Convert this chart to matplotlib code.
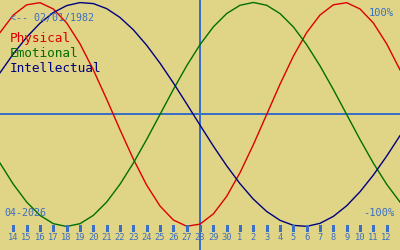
import matplotlib
matplotlib.use("Agg")
import matplotlib.pyplot as plt
import pandas as pd

# one value per day, 13 Apr 2026 .. 13 May 2026 (birth date 02/01/1982)
days = pd.date_range("2026-04-13", "2026-05-13", freq="D")
today = pd.Timestamp("2026-04-28")

physical = [0.731, 0.888, 0.979, 0.998, 0.942, 0.817, 0.631, 0.398, 0.136, -0.136,
            -0.398, -0.631, -0.817, -0.942, -0.998, -0.979, -0.888, -0.731, -0.520, -0.270,
            0.000, 0.270, 0.520, 0.731, 0.888, 0.979, 0.998, 0.942, 0.817, 0.631, 0.398]
emotional = [-0.434, -0.623, -0.782, -0.901, -0.975, -1.000, -0.975, -0.901, -0.782, -0.623,
             -0.434, -0.223, 0.000, 0.223, 0.434, 0.623, 0.782, 0.901, 0.975, 1.000,
             0.975, 0.901, 0.782, 0.623, 0.434, 0.223, 0.000, -0.223, -0.434, -0.623, -0.782]
intellectual = [0.372, 0.541, 0.690, 0.815, 0.910, 0.972, 0.999, 0.990, 0.945, 0.866,
                0.756, 0.618, 0.458, 0.282, 0.095, -0.095, -0.282, -0.458, -0.618, -0.756,
                -0.866, -0.945, -0.990, -0.999, -0.972, -0.910, -0.815, -0.690, -0.541, -0.372, -0.189]

series = [("Physical", physical, "#dd0000"),
          ("Emotional", emotional, "#007000"),
          ("Intellectual", intellectual, "#000080")]

tick_days = days[1:-1]
birth_label = "<-- 02/01/1982"
month_label = "04-2026"

bg = "#e0d487"
blue = "#3a6fc4"
mono = ["DejaVu Sans Mono"]

fig = plt.figure(figsize=(4, 2.5), dpi=100, facecolor=bg)
ax = fig.add_axes([0, 0, 1, 1])
ax.set_facecolor(bg)
ax.set_xlim(days[0], days[-1])
ax.set_ylim(-1.21, 1.022)
ax.axis("off")

ax.axhline(0, color=blue, lw=1.2, antialiased=False)
ax.axvline(today, color=blue, lw=1.2, antialiased=False)

for name, vals, col in series:
    ax.plot(days, vals, color=col, lw=1.0)

# day ticks along the bottom
tr = ax.get_xaxis_transform()
ax.vlines(tick_days, 0.078, 0.1, color=blue, lw=1.0, transform=tr, antialiased=False)
for d in tick_days:
    ax.text(d, 0.04, str(d.day), color=blue, fontsize=6.3, family=mono,
            ha="center", va="baseline", transform=tr)

# labels
ax.text(10, 250 - 21, birth_label, color=blue, fontsize=7.2, family=mono,
        transform=None, va="baseline")
for i, (name, vals, col) in enumerate(series):
    ax.text(10, 250 - 42 - 15 * i, name, color=col, fontsize=9.2, family=mono,
            transform=None, va="baseline")
ax.text(394, 250 - 16, "100%", color=blue, fontsize=7.5, family=mono,
        transform=None, ha="right", va="baseline")
ax.text(394, 250 - 216, "-100%", color=blue, fontsize=7.5, family=mono,
        transform=None, ha="right", va="baseline")
ax.text(4, 250 - 216, month_label, color=blue, fontsize=7.2, family=mono,
        transform=None, va="baseline")

fig.savefig("out.png", dpi=100, facecolor=bg)
